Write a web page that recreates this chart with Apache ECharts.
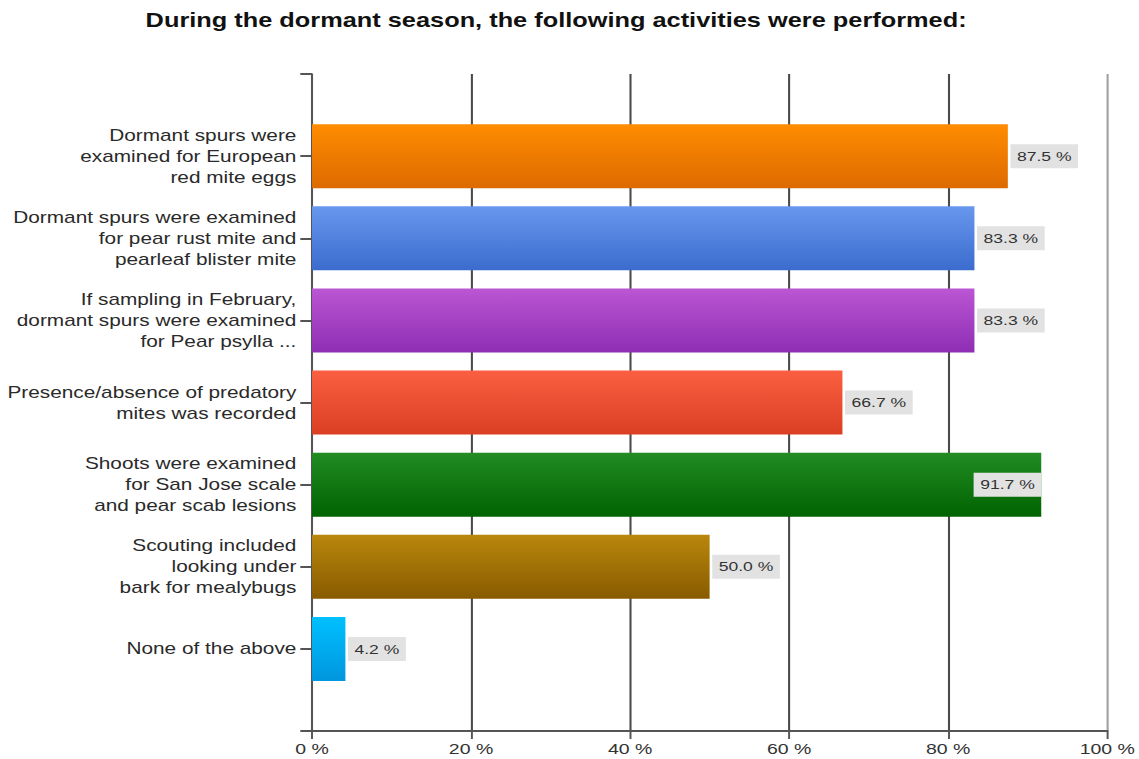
<!DOCTYPE html>
<html>
<head>
<meta charset="utf-8">
<script src="https://cdn.jsdelivr.net/npm/echarts@6/dist/echarts.min.js"></script>
<style>
  html, body { margin: 0; padding: 0; background: #fff; overflow: hidden; }
  #chart { height: 759px; transform-origin: 0 0; }
</style>
</head>
<body>
<div id="chart"></div>
<script>
// Survey answers: share of respondents performing each dormant-season activity
const categories = [
  'Dormant spurs were\nexamined for European\nred mite eggs',
  'Dormant spurs were examined\nfor pear rust mite and\npearleaf blister mite',
  'If sampling in February,\ndormant spurs were examined\nfor Pear psylla ...',
  'Presence/absence of predatory\nmites was recorded',
  'Shoots were examined\nfor San Jose scale\nand pear scab lesions',
  'Scouting included\nlooking under\nbark for mealybugs',
  'None of the above'
];
const percentages = [87.5, 83.3, 83.3, 66.7, 91.7, 50.0, 4.2];
const axisMin = 0;
const axisMax = 100;
const axisStep = 20;

// Per-bar vertical gradients (top colour, bottom colour)
const barColors = [
  ['#ff8c00', '#dd6a00'],
  ['#6897ee', '#3b6cce'],
  ['#bb56d4', '#8e2eb3'],
  ['#fb5f41', '#da3f24'],
  ['#238c23', '#006300'],
  ['#b9870c', '#885b00'],
  ['#00c0ff', '#0096de']
];

// The drawing is laid out narrow and widened horizontally for a broad lettering look
const STRETCH = 1.3;
const W = 1139 / STRETCH;
const el = document.getElementById('chart');
el.style.width = W + 'px';
el.style.transform = 'scaleX(' + STRETCH + ')';

const FONT = '"Liberation Sans", Arial, Helvetica, sans-serif';

const axisCats = [''].concat(categories, ['']);
const barData = ['-'].concat(percentages.map((v, i) => ({
  value: v,
  itemStyle: {
    color: new echarts.graphic.LinearGradient(0, 0, 0, 1, [
      { offset: 0, color: barColors[i][0] },
      { offset: 1, color: barColors[i][1] }
    ])
  },
  label: v > 90 ? { position: 'insideRight', distance: 0 } : { position: 'right', distance: 2 }
})), ['-']);

const chart = echarts.init(el, null, { renderer: 'svg' });
chart.setOption({
  animation: false,
  backgroundColor: '#ffffff',
  title: {
    text: 'During the dormant season, the following activities were performed:',
    left: 107,
    top: 6,
    textStyle: { fontFamily: FONT, fontSize: 19.5, fontWeight: 'bold', color: '#111' }
  },
  grid: { left: 240, right: 23, top: 74, bottom: 28, containLabel: false },
  xAxis: {
    type: 'value',
    min: axisMin,
    max: axisMax,
    interval: axisStep,
    axisLine: { show: true, lineStyle: { color: '#555', width: 2 } },
    axisTick: { show: true, length: 8, lineStyle: { color: '#555', width: 1.5 } },
    axisLabel: {
      margin: 10,
      formatter: '{value} %',
      fontFamily: FONT,
      fontSize: 15,
      color: '#333'
    },
    splitLine: {
      show: true,
      showMinLine: true,
      showMaxLine: true,
      lineStyle: {
        color: ['#4a4a4a', '#4a4a4a', '#4a4a4a', '#4a4a4a', '#4a4a4a', '#a0a0a0'],
        width: 1.6
      }
    }
  },
  yAxis: {
    type: 'category',
    data: axisCats,
    inverse: true,
    boundaryGap: false,
    axisLine: { show: true, lineStyle: { color: '#555', width: 1.5 } },
    axisTick: { show: true, length: 9, lineStyle: { color: '#555', width: 2 } },
    axisLabel: {
      margin: 12,
      fontFamily: FONT,
      fontSize: 16,
      lineHeight: 21,
      color: '#2a2a2a',
      align: 'right',
      interval: 0
    },
    splitLine: { show: false }
  },
  series: [{
    type: 'bar',
    data: barData,
    barWidth: 64,
    label: {
      show: true,
      formatter: p => p.value.toFixed(1) + ' %',
      fontFamily: FONT,
      fontSize: 13.5,
      color: '#333',
      backgroundColor: '#e2e2e2',
      padding: [5, 5, 5, 5]
    }
  }]
});
</script>
</body>
</html>
